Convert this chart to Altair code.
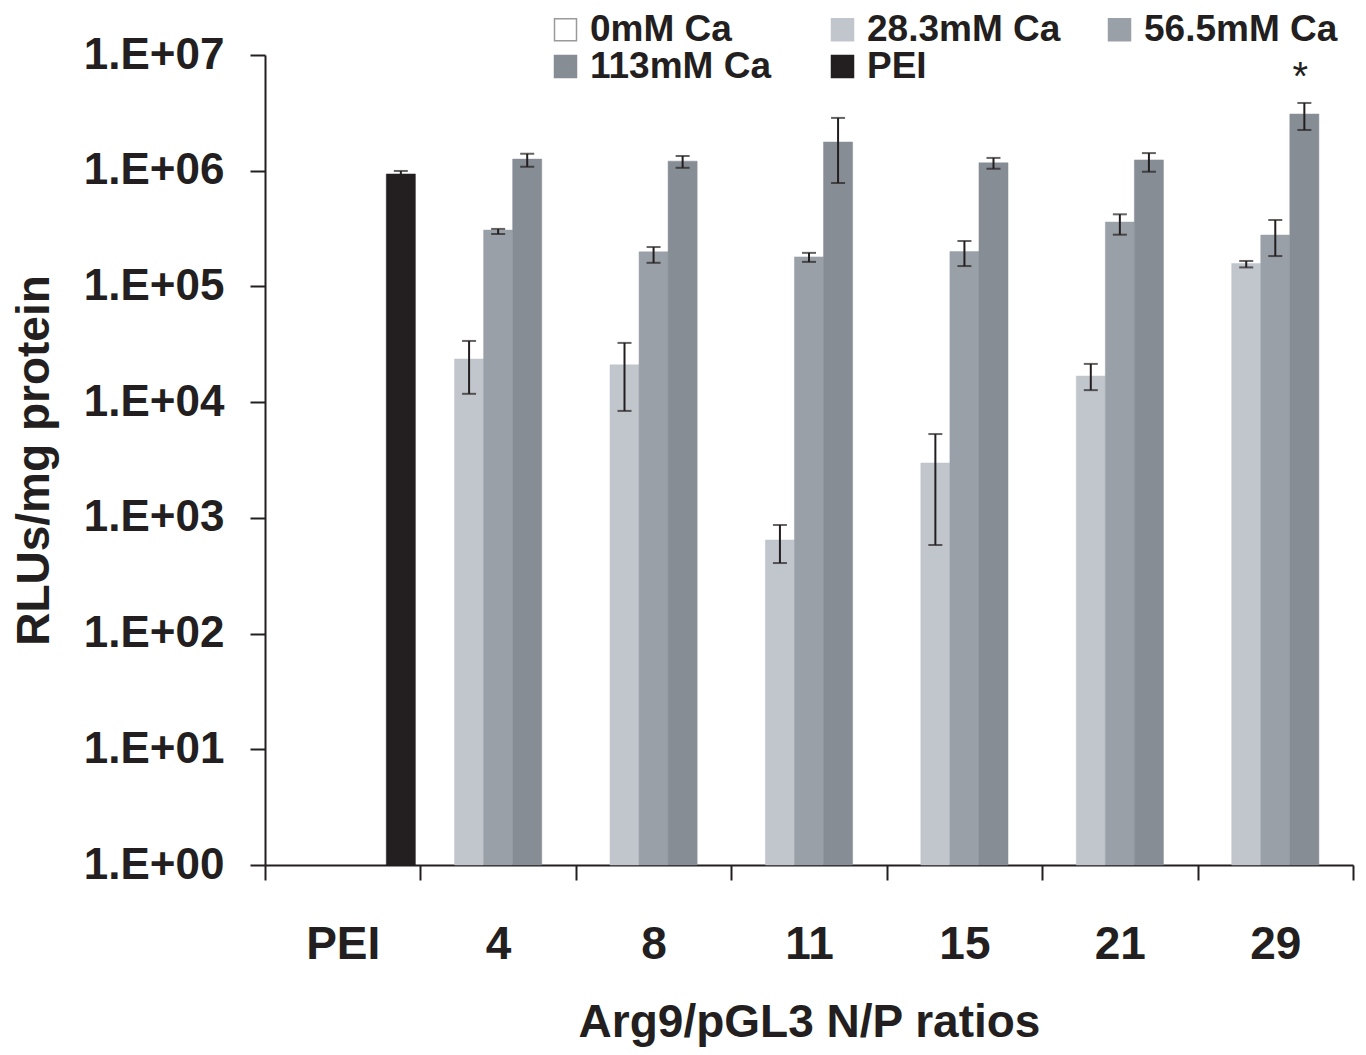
import altair as alt
import pandas as pd

# ---- data ----
groups = ["PEI", "4", "8", "11", "15", "21", "29"]
series = ["0mM Ca", "28.3mM Ca", "56.5mM Ca", "113mM Ca", "PEI"]

# 0mM Ca: no visible bars
ca283 = [None, 2.36e4, 2.1e4, 644, 2.98e3, 1.68e4, 1.58e5]
ca283_lo = [None, 1.18e4, 8.4e3, 407, 583, 1.27e4, 1.46e5]
ca283_hi = [None, 3.38e4, 3.25e4, 868, 5.3e3, 2.14e4, 1.66e5]

ca565 = [None, 3.07e5, 1.99e5, 1.80e5, 2.0e5, 3.6e5, 2.78e5]
ca565_lo = [None, 2.84e5, 1.6e5, 1.63e5, 1.5e5, 2.8e5, 1.83e5]
ca565_hi = [None, 3.14e5, 2.19e5, 1.95e5, 2.47e5, 4.2e5, 3.75e5]

ca113 = [None, 1.26e6, 1.21e6, 1.77e6, 1.17e6, 1.24e6, 3.09e6]
ca113_lo = [None, 1.08e6, 1.06e6, 7.83e5, 1.04e6, 9.8e5, 2.25e6]
ca113_hi = [None, 1.40e6, 1.34e6, 2.86e6, 1.29e6, 1.42e6, 3.85e6]

pei = [9.37e5, None, None, None, None, None, None]
pei_lo = [8.8e5, None, None, None, None, None, None]
pei_hi = [9.95e5, None, None, None, None, None, None]

star_group = ["29"]
star_series = ["113mM Ca"]
star_value = [5.0e6]

colors = ["#ffffff", "#c1c5cc", "#9aa0a8", "#868d95", "#231f20"]
strokes = ["#9a9a9a", "#c1c5cc", "#9aa0a8", "#868d95", "#231f20"]

rows = []
for name, vals, los, his in [
    ("28.3mM Ca", ca283, ca283_lo, ca283_hi),
    ("56.5mM Ca", ca565, ca565_lo, ca565_hi),
    ("113mM Ca", ca113, ca113_lo, ca113_hi),
    ("PEI", pei, pei_lo, pei_hi),
]:
    for g, v, lo, hi in zip(groups, vals, los, his):
        if v is not None:
            rows.append({"group": g, "series": name, "value": v, "lo": lo, "hi": hi})
df = pd.DataFrame(rows)
star_df = pd.DataFrame({"group": star_group, "series": star_series, "value": star_value, "label": ["*"]})

FONT = "Liberation Sans"
INK = "#231f20"

x_enc = alt.X(
    "group:N",
    sort=groups,
    scale=alt.Scale(domain=groups, paddingInner=0, paddingOuter=0),
    axis=alt.Axis(
        title="Arg9/pGL3 N/P ratios",
        labelAngle=0,
        tickBand="extent",
        tickSize=15,
        labelPadding=42,
        titlePadding=33,
        labelFontSize=46,
        titleFontSize=46,
    ),
)
xoff = alt.XOffset("series:N", scale=alt.Scale(domain=series, paddingInner=0, paddingOuter=0.174))
y_scale = alt.Scale(type="log", domain=[1, 1e7], nice=False)

bars = alt.Chart(df).mark_bar(strokeWidth=0.5).encode(
    x=x_enc,
    xOffset=xoff,
    y=alt.Y(
        "value:Q",
        scale=y_scale,
        axis=alt.Axis(
            title="RLUs/mg protein",
            values=[1, 10, 100, 1000, 1e4, 1e5, 1e6, 1e7],
            labelExpr="'1.E+0' + format(log(datum.value)/LN10, '.0f')",
            tickSize=15,
            labelPadding=26,
            titlePadding=25,
            labelFontSize=44,
            titleFontSize=46,
            grid=False,
        ),
    ),
    y2=alt.Y2(datum=1),
    color=alt.Color(
        "series:N",
        scale=alt.Scale(domain=series, range=colors),
        legend=alt.Legend(
            title=None,
            orient="none",
            direction="horizontal",
            legendX=282,
            legendY=-44,
            columns=3,
            gridAlign="all",
            columnPadding=40,
            rowPadding=-1,
            symbolType="square",
            symbolSize=484,
            symbolStrokeWidth=1.5,
            labelFontSize=37,
            labelOffset=6,
            labelLimit=400,
        ),
    ),
    stroke=alt.Stroke("series:N", scale=alt.Scale(domain=series, range=strokes), legend=None),
)

err_rule = alt.Chart(df).mark_rule(color=INK, strokeWidth=2).encode(
    x=alt.X("group:N", sort=groups),
    xOffset=xoff,
    y=alt.Y("lo:Q", scale=y_scale),
    y2="hi:Q",
)
cap_hi = alt.Chart(df).mark_tick(color=INK, thickness=2, size=14, orient="horizontal").encode(
    x=alt.X("group:N", sort=groups),
    xOffset=xoff,
    y=alt.Y("hi:Q", scale=y_scale),
)
cap_lo = alt.Chart(df).mark_tick(color=INK, thickness=2, size=14, orient="horizontal").encode(
    x=alt.X("group:N", sort=groups),
    xOffset=xoff,
    y=alt.Y("lo:Q", scale=y_scale),
)
star = alt.Chart(star_df).mark_text(fontSize=40, font=FONT, color=INK, baseline="alphabetic", dx=-4).encode(
    x=alt.X("group:N", sort=groups),
    xOffset=xoff,
    y=alt.Y("value:Q", scale=y_scale),
    text="label:N",
)

chart = (
    alt.layer(bars, err_rule, cap_hi, cap_lo, star)
    .properties(
        width=1088,
        height=810,
        background="white",
        autosize=alt.AutoSizeParams(type="none"),
        padding={"left": 257, "top": 47, "right": 5, "bottom": 188},
    )
    .configure_view(stroke=None)
    .configure_axis(
        labelFont=FONT,
        titleFont=FONT,
        labelFontWeight="bold",
        titleFontWeight="bold",
        labelColor=INK,
        titleColor=INK,
        domainColor=INK,
        tickColor=INK,
        domainWidth=2,
        tickWidth=2,
    )
    .configure_legend(labelFont=FONT, labelFontWeight="bold", labelColor=INK)
)

chart.save("out.html", embed_options={"renderer": "svg", "actions": False})
